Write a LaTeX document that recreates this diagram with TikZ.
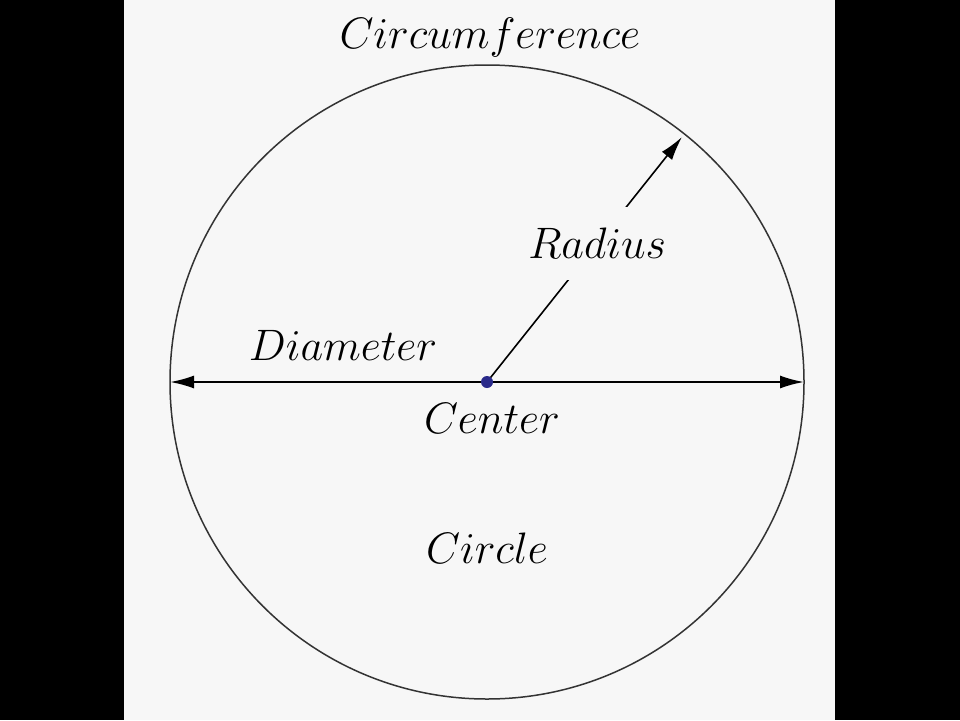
\documentclass[tikz,border=0pt]{standalone}
\usepackage{graphicx}
\usetikzlibrary{arrows.meta}
\definecolor{panel}{HTML}{F7F7F7}
\definecolor{dotblue}{HTML}{2A2A8A}
\newcommand{\biglbl}[1]{\scalebox{1.77}{\Huge$#1$}}
\begin{document}
\begin{tikzpicture}[x=1pt,y=-1pt,
  lbl/.style={inner sep=0pt},
  >={Latex[length=24pt,width=13pt]}]
\useasboundingbox (0,0) rectangle (960,720);
\fill[black] (0,0) rectangle (960,720);
\fill[panel] (124,0) rectangle (835,720);
\coordinate (c) at (487,382);
\draw[line width=1.5pt,black!80] (c) circle[radius=317];
\coordinate (dl) at (170,382);
\coordinate (dr) at (804,382);
\draw[line width=2pt,<->] (dl) -- (dr);
\coordinate (rend) at (682,137);
\draw[line width=1.6pt,->] (c) -- node[pos=0.565,fill=panel,inner xsep=4pt,inner ysep=21pt]{\biglbl{Radius}} (rend);
\fill[dotblue] (c) circle[radius=6];
\node[lbl] (circ) at (490,37) {\biglbl{Circumference}};
\node[lbl] (diam) at (343,345) {\biglbl{Diameter}};
\node[lbl] (cent) at (492,418) {\biglbl{Center}};
\node[lbl] (cir) at (487,548) {\biglbl{Circle}};
\end{tikzpicture}
\end{document}
